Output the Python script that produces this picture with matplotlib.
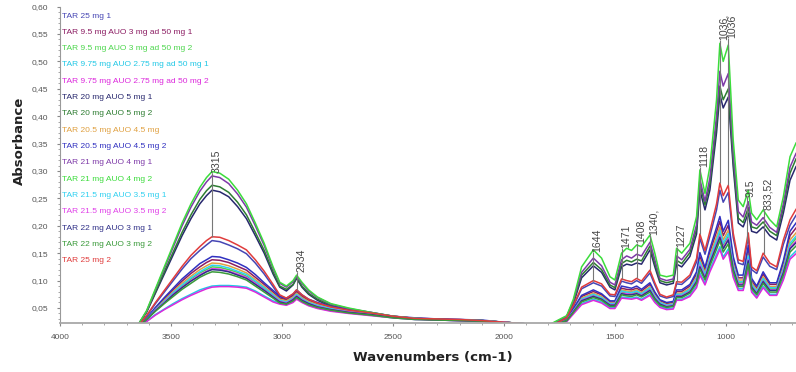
import matplotlib
matplotlib.use("Agg")
import matplotlib.pyplot as plt
from matplotlib import font_manager
from matplotlib.ticker import MultipleLocator, FuncFormatter
import numpy as np

# ---------------- data ----------------
wavenumbers = [3650, 3610, 3570, 3530, 3490, 3450, 3410, 3370, 3340, 3315,
               3280, 3240, 3200, 3160, 3120, 3080, 3040, 3010, 2980, 2950,
               2934, 2910, 2880, 2840, 2780, 2700, 2600, 2500, 2400, 2300,
               2200, 2100, 2000, 1900, 1820,
               1779, 1717, 1687, 1650, 1597, 1560, 1522, 1500, 1470, 1447,
               1425, 1402, 1380, 1342, 1320, 1297, 1267, 1237, 1222, 1199,
               1162, 1132, 1117, 1094, 1072, 1042, 1027, 1012, 989, 967,
               944, 922, 899, 884, 861, 832, 802, 771, 741, 711, 684]

tar25_1 = [0.016, 0.035, 0.058, 0.079, 0.100, 0.121, 0.140, 0.155, 0.165, 0.173,
           0.171, 0.165, 0.158, 0.149, 0.132, 0.112, 0.089, 0.071, 0.066, 0.073,
           0.080, 0.071, 0.064, 0.057, 0.050, 0.045, 0.040, 0.034, 0.031, 0.030,
           0.029, 0.027, 0.024, 0.021, 0.015,
           0.019, 0.031, 0.053, 0.085, 0.096, 0.090, 0.072, 0.071, 0.099, 0.096,
           0.094, 0.100, 0.095, 0.114, 0.092, 0.072, 0.068, 0.071, 0.094, 0.093,
           0.106, 0.134, 0.177, 0.148, 0.181, 0.229, 0.265, 0.243, 0.261, 0.179,
           0.132, 0.129, 0.179, 0.120, 0.113, 0.143, 0.126, 0.120, 0.166, 0.201, 0.219]

tar95_ad50_1 = [0.015, 0.031, 0.050, 0.066, 0.083, 0.099, 0.113, 0.125, 0.133, 0.138,
                0.137, 0.133, 0.126, 0.119, 0.106, 0.093, 0.079, 0.068, 0.065, 0.073,
                0.080, 0.072, 0.064, 0.058, 0.052, 0.046, 0.041, 0.035, 0.031, 0.029,
                0.028, 0.027, 0.024, 0.021, 0.015,
                0.018, 0.028, 0.047, 0.071, 0.080, 0.074, 0.061, 0.061, 0.086, 0.084,
                0.083, 0.086, 0.081, 0.093, 0.076, 0.063, 0.058, 0.060, 0.080, 0.080,
                0.090, 0.112, 0.144, 0.119, 0.152, 0.189, 0.208, 0.182, 0.201, 0.138,
                0.105, 0.105, 0.157, 0.100, 0.086, 0.112, 0.093, 0.093, 0.131, 0.182, 0.196]

tar95_ad50_2 = [0.015, 0.029, 0.046, 0.061, 0.076, 0.090, 0.103, 0.114, 0.120, 0.125,
                0.124, 0.120, 0.115, 0.108, 0.097, 0.085, 0.073, 0.063, 0.060, 0.067,
                0.073, 0.066, 0.059, 0.054, 0.048, 0.043, 0.039, 0.033, 0.030, 0.029,
                0.028, 0.026, 0.024, 0.021, 0.015,
                0.018, 0.028, 0.044, 0.065, 0.073, 0.068, 0.057, 0.057, 0.079, 0.077,
                0.076, 0.079, 0.074, 0.085, 0.070, 0.058, 0.054, 0.056, 0.073, 0.073,
                0.082, 0.102, 0.131, 0.108, 0.137, 0.170, 0.187, 0.164, 0.181, 0.125,
                0.096, 0.096, 0.142, 0.091, 0.079, 0.102, 0.085, 0.085, 0.118, 0.164, 0.177]

tar975_ad50_1 = [0.015, 0.026, 0.038, 0.048, 0.058, 0.067, 0.075, 0.083, 0.087, 0.090,
                 0.091, 0.091, 0.090, 0.088, 0.081, 0.072, 0.063, 0.059, 0.056, 0.062,
                 0.068, 0.061, 0.055, 0.050, 0.045, 0.041, 0.037, 0.032, 0.029, 0.028,
                 0.027, 0.026, 0.023, 0.020, 0.015,
                 0.018, 0.026, 0.041, 0.058, 0.066, 0.061, 0.051, 0.051, 0.070, 0.069,
                 0.068, 0.070, 0.066, 0.075, 0.062, 0.053, 0.049, 0.050, 0.066, 0.066,
                 0.073, 0.090, 0.114, 0.095, 0.120, 0.148, 0.162, 0.143, 0.158, 0.110,
                 0.085, 0.085, 0.124, 0.081, 0.070, 0.090, 0.075, 0.075, 0.104, 0.143, 0.154]

tar975_ad50_2 = [0.015, 0.025, 0.037, 0.047, 0.056, 0.065, 0.073, 0.080, 0.085, 0.088,
                 0.089, 0.089, 0.088, 0.086, 0.079, 0.070, 0.061, 0.057, 0.055, 0.060,
                 0.066, 0.060, 0.054, 0.049, 0.044, 0.040, 0.036, 0.032, 0.029, 0.028,
                 0.027, 0.025, 0.023, 0.020, 0.015,
                 0.018, 0.025, 0.039, 0.056, 0.064, 0.059, 0.049, 0.049, 0.068, 0.067,
                 0.066, 0.068, 0.064, 0.073, 0.060, 0.051, 0.047, 0.048, 0.064, 0.064,
                 0.071, 0.087, 0.110, 0.092, 0.116, 0.143, 0.157, 0.139, 0.153, 0.106,
                 0.082, 0.082, 0.120, 0.079, 0.068, 0.087, 0.073, 0.073, 0.101, 0.139, 0.149]

tar20_auo5_1 = [0.018, 0.042, 0.077, 0.112, 0.147, 0.182, 0.213, 0.240, 0.255, 0.265,
                0.262, 0.253, 0.235, 0.213, 0.182, 0.150, 0.112, 0.088, 0.081, 0.092,
                0.104, 0.088, 0.075, 0.064, 0.053, 0.046, 0.040, 0.033, 0.030, 0.029,
                0.028, 0.026, 0.024, 0.021, 0.015,
                0.021, 0.034, 0.058, 0.105, 0.127, 0.115, 0.088, 0.083, 0.125, 0.130,
                0.128, 0.132, 0.130, 0.156, 0.125, 0.096, 0.092, 0.095, 0.130, 0.125,
                0.144, 0.185, 0.265, 0.229, 0.265, 0.370, 0.440, 0.415, 0.435, 0.308,
                0.205, 0.198, 0.223, 0.190, 0.187, 0.198, 0.182, 0.174, 0.223, 0.283, 0.308]

tar20_auo5_2 = [0.018, 0.043, 0.079, 0.116, 0.152, 0.188, 0.220, 0.248, 0.264, 0.274,
                0.271, 0.261, 0.243, 0.220, 0.188, 0.155, 0.116, 0.090, 0.084, 0.093,
                0.106, 0.090, 0.077, 0.066, 0.055, 0.047, 0.040, 0.034, 0.030, 0.029,
                0.028, 0.027, 0.024, 0.021, 0.015,
                0.021, 0.035, 0.061, 0.110, 0.133, 0.120, 0.092, 0.087, 0.131, 0.137,
                0.134, 0.139, 0.136, 0.163, 0.131, 0.100, 0.096, 0.099, 0.137, 0.131,
                0.151, 0.194, 0.276, 0.238, 0.276, 0.385, 0.455, 0.430, 0.450, 0.320,
                0.214, 0.206, 0.233, 0.198, 0.195, 0.207, 0.190, 0.182, 0.233, 0.296, 0.322]

tar205_auo45_1 = [0.015, 0.030, 0.048, 0.064, 0.080, 0.095, 0.108, 0.120, 0.127, 0.132,
                  0.131, 0.127, 0.121, 0.114, 0.102, 0.089, 0.076, 0.066, 0.063, 0.070,
                  0.077, 0.069, 0.062, 0.056, 0.050, 0.045, 0.040, 0.034, 0.031, 0.029,
                  0.028, 0.027, 0.024, 0.021, 0.015,
                  0.018, 0.028, 0.046, 0.068, 0.077, 0.071, 0.059, 0.059, 0.083, 0.081,
                  0.080, 0.083, 0.078, 0.089, 0.073, 0.061, 0.056, 0.058, 0.077, 0.077,
                  0.086, 0.107, 0.138, 0.114, 0.145, 0.180, 0.198, 0.174, 0.192, 0.132,
                  0.101, 0.101, 0.150, 0.096, 0.083, 0.107, 0.089, 0.089, 0.125, 0.174, 0.187]

tar205_auo45_2 = [0.015, 0.031, 0.051, 0.069, 0.086, 0.103, 0.117, 0.131, 0.138, 0.144,
                  0.143, 0.138, 0.132, 0.124, 0.111, 0.096, 0.082, 0.071, 0.068, 0.075,
                  0.083, 0.074, 0.066, 0.060, 0.053, 0.048, 0.042, 0.035, 0.032, 0.030,
                  0.029, 0.028, 0.024, 0.021, 0.015,
                  0.018, 0.029, 0.049, 0.073, 0.083, 0.076, 0.063, 0.063, 0.090, 0.088,
                  0.086, 0.090, 0.084, 0.096, 0.079, 0.065, 0.060, 0.062, 0.083, 0.083,
                  0.093, 0.116, 0.151, 0.124, 0.158, 0.197, 0.217, 0.190, 0.210, 0.144,
                  0.110, 0.110, 0.164, 0.104, 0.090, 0.116, 0.096, 0.096, 0.136, 0.190, 0.205]

tar21_auo4_1 = [0.018, 0.044, 0.083, 0.122, 0.161, 0.200, 0.234, 0.263, 0.280, 0.291,
                0.288, 0.277, 0.258, 0.234, 0.200, 0.164, 0.122, 0.095, 0.088, 0.098,
                0.107, 0.095, 0.081, 0.069, 0.057, 0.049, 0.042, 0.035, 0.031, 0.029,
                0.028, 0.027, 0.024, 0.021, 0.015,
                0.022, 0.035, 0.063, 0.115, 0.141, 0.127, 0.097, 0.092, 0.138, 0.145,
                0.141, 0.148, 0.145, 0.170, 0.138, 0.104, 0.100, 0.103, 0.145, 0.138,
                0.157, 0.202, 0.285, 0.245, 0.287, 0.401, 0.482, 0.455, 0.478, 0.333,
                0.226, 0.216, 0.244, 0.207, 0.201, 0.215, 0.197, 0.188, 0.240, 0.307, 0.332]

tar21_auo4_2 = [0.018, 0.045, 0.085, 0.125, 0.165, 0.205, 0.240, 0.270, 0.288, 0.299,
                0.296, 0.285, 0.265, 0.240, 0.205, 0.168, 0.125, 0.097, 0.090, 0.100,
                0.110, 0.097, 0.083, 0.070, 0.058, 0.050, 0.042, 0.035, 0.031, 0.029,
                0.028, 0.027, 0.024, 0.021, 0.015,
                0.023, 0.036, 0.066, 0.125, 0.156, 0.141, 0.107, 0.101, 0.150, 0.159,
                0.155, 0.165, 0.162, 0.183, 0.150, 0.110, 0.107, 0.110, 0.159, 0.150,
                0.168, 0.217, 0.302, 0.259, 0.308, 0.430, 0.533, 0.500, 0.530, 0.357,
                0.247, 0.235, 0.265, 0.223, 0.211, 0.229, 0.211, 0.198, 0.253, 0.326, 0.351]

tar215_auo35_1 = [0.015, 0.030, 0.047, 0.062, 0.078, 0.092, 0.105, 0.116, 0.123, 0.128,
                  0.127, 0.123, 0.117, 0.111, 0.099, 0.087, 0.074, 0.064, 0.061, 0.068,
                  0.075, 0.067, 0.060, 0.055, 0.049, 0.044, 0.039, 0.034, 0.031, 0.029,
                  0.028, 0.027, 0.024, 0.021, 0.015,
                  0.018, 0.028, 0.045, 0.066, 0.075, 0.069, 0.058, 0.058, 0.081, 0.079,
                  0.078, 0.081, 0.076, 0.087, 0.071, 0.060, 0.055, 0.057, 0.075, 0.075,
                  0.084, 0.104, 0.134, 0.111, 0.141, 0.174, 0.192, 0.168, 0.186, 0.128,
                  0.098, 0.098, 0.145, 0.093, 0.081, 0.104, 0.087, 0.087, 0.121, 0.168, 0.181]

tar215_auo35_2 = [0.015, 0.029, 0.046, 0.060, 0.075, 0.088, 0.100, 0.111, 0.117, 0.122,
                  0.121, 0.117, 0.112, 0.106, 0.095, 0.083, 0.071, 0.062, 0.059, 0.066,
                  0.072, 0.065, 0.058, 0.053, 0.047, 0.043, 0.038, 0.033, 0.030, 0.028,
                  0.027, 0.026, 0.024, 0.021, 0.015,
                  0.018, 0.027, 0.044, 0.064, 0.072, 0.066, 0.056, 0.056, 0.077, 0.076,
                  0.075, 0.077, 0.073, 0.083, 0.068, 0.057, 0.053, 0.055, 0.072, 0.072,
                  0.080, 0.099, 0.128, 0.106, 0.134, 0.166, 0.182, 0.160, 0.177, 0.122,
                  0.094, 0.094, 0.138, 0.089, 0.077, 0.099, 0.083, 0.083, 0.116, 0.160, 0.172]

tar22_auo3_1 = [0.015, 0.029, 0.045, 0.059, 0.074, 0.087, 0.099, 0.109, 0.116, 0.120,
                0.119, 0.116, 0.110, 0.104, 0.093, 0.082, 0.070, 0.061, 0.058, 0.065,
                0.071, 0.064, 0.058, 0.052, 0.047, 0.042, 0.038, 0.033, 0.030, 0.028,
                0.027, 0.026, 0.023, 0.021, 0.015,
                0.018, 0.027, 0.043, 0.063, 0.071, 0.066, 0.055, 0.055, 0.076, 0.074,
                0.074, 0.076, 0.072, 0.082, 0.067, 0.057, 0.052, 0.054, 0.071, 0.071,
                0.079, 0.098, 0.125, 0.104, 0.132, 0.163, 0.179, 0.158, 0.174, 0.120,
                0.092, 0.092, 0.136, 0.088, 0.076, 0.098, 0.082, 0.082, 0.114, 0.158, 0.169]

tar22_auo3_2 = [0.015, 0.029, 0.044, 0.058, 0.071, 0.084, 0.095, 0.106, 0.112, 0.116,
                0.115, 0.112, 0.107, 0.101, 0.090, 0.079, 0.068, 0.059, 0.057, 0.063,
                0.069, 0.062, 0.056, 0.051, 0.046, 0.041, 0.037, 0.032, 0.029, 0.028,
                0.027, 0.026, 0.023, 0.021, 0.015,
                0.018, 0.027, 0.042, 0.061, 0.069, 0.064, 0.053, 0.053, 0.074, 0.072,
                0.071, 0.074, 0.070, 0.079, 0.065, 0.055, 0.051, 0.053, 0.069, 0.069,
                0.077, 0.095, 0.121, 0.101, 0.127, 0.157, 0.173, 0.152, 0.167, 0.116,
                0.089, 0.089, 0.131, 0.085, 0.074, 0.095, 0.079, 0.079, 0.110, 0.152, 0.163]

tar25_2 = [0.016, 0.036, 0.060, 0.082, 0.104, 0.126, 0.146, 0.162, 0.173, 0.180,
           0.179, 0.173, 0.165, 0.156, 0.138, 0.117, 0.093, 0.074, 0.068, 0.076,
           0.083, 0.074, 0.066, 0.059, 0.052, 0.046, 0.041, 0.035, 0.031, 0.030,
           0.029, 0.027, 0.024, 0.021, 0.015,
           0.019, 0.032, 0.055, 0.088, 0.100, 0.094, 0.075, 0.074, 0.103, 0.100,
           0.098, 0.104, 0.099, 0.119, 0.096, 0.075, 0.070, 0.074, 0.098, 0.097,
           0.110, 0.140, 0.185, 0.155, 0.190, 0.240, 0.278, 0.255, 0.274, 0.187,
           0.138, 0.135, 0.187, 0.125, 0.118, 0.150, 0.132, 0.125, 0.174, 0.211, 0.230]

series_labels = ["TAR 25 mg 1",
                 "TAR 9.5 mg AUO 3 mg ad 50 mg 1",
                 "TAR 9.5 mg AUO 3 mg ad 50 mg 2",
                 "TAR 9.75 mg AUO 2.75 mg ad 50 mg 1",
                 "TAR 9.75 mg AUO 2.75 mg ad 50 mg 2",
                 "TAR 20 mg AUO 5 mg 1",
                 "TAR 20 mg AUO 5 mg 2",
                 "TAR 20.5 mg AUO 4.5 mg",
                 "TAR 20.5 mg AUO 4.5 mg 2",
                 "TAR 21 mg AUO 4 mg 1",
                 "TAR 21 mg AUO 4 mg 2",
                 "TAR 21.5 mg AUO 3.5 mg 1",
                 "TAR 21.5 mg AUO 3.5 mg 2",
                 "TAR 22 mg AUO 3 mg 1",
                 "TAR 22 mg AUO 3 mg 2",
                 "TAR 25 mg 2"]
series_values = [tar25_1, tar95_ad50_1, tar95_ad50_2, tar975_ad50_1, tar975_ad50_2,
                 tar20_auo5_1, tar20_auo5_2, tar205_auo45_1, tar205_auo45_2,
                 tar21_auo4_1, tar21_auo4_2, tar215_auo35_1, tar215_auo35_2,
                 tar22_auo3_1, tar22_auo3_2, tar25_2]
series_colors = ["#4646b4", "#8b1c62", "#4cd64c", "#22c8e6", "#dc28dc",
                 "#28286e", "#2e7d32", "#e0a040", "#3030c0", "#7e3aa8",
                 "#3cdc3c", "#30d0f0", "#e040e8", "#303088", "#3a9a3a", "#e03c3c"]

peak_labels = ["3315", "2934", "1644", "1471", "1408", "1340,", "1227", "1118",
               "1036,", "1036", "915", "833,52"]
peak_positions = [3315, 2932, 1599, 1470, 1402, 1342, 1222, 1117, 1027, 989, 906, 828]
peak_label_levels = [0.296, 0.116, 0.152, 0.160, 0.169, 0.183, 0.161, 0.307,
                     0.539, 0.543, 0.253, 0.229]

# ---------------- fonts ----------------
installed = {f.name for f in font_manager.fontManager.ttflist}
if "Liberation Sans Narrow" in installed:
    narrow, leg_size, tick_size = "Liberation Sans Narrow", 7.0, 7.0
else:
    narrow, leg_size, tick_size = "Liberation Sans", 6.0, 6.0

# ---------------- figure ----------------
W, H = 796, 372
fig = plt.figure(figsize=(W / 100, H / 100), dpi=100)
ax = fig.add_axes([60 / W, 1 - 322.5 / H, 1 - 60 / W, (322.5 - 6.6) / H])

for vals, col in zip(series_values, series_colors):
    ax.plot(wavenumbers, vals, color=col, lw=1.1, solid_joinstyle="round")

ax.set_xlim(4000, 684)
ax.set_ylim(0.0235, 0.60)

# peak annotations (marked on the TAR 25 mg 2 spectrum)
wn_arr = np.array(wavenumbers)[::-1]
ref_arr = np.array(tar25_2)[::-1]
for lab, pos, lvl in zip(peak_labels, peak_positions, peak_label_levels):
    base = float(np.interp(pos, wn_arr, ref_arr))
    ax.vlines(pos, base, lvl, color="#777777", lw=0.8, zorder=5)
    ax.annotate(lab, xy=(pos, lvl), xytext=(3.0, 0), textcoords="offset points",
                rotation=90, ha="center", va="bottom", fontsize=7.6,
                color="#444444", family="Liberation Sans", zorder=6)

# axes styling
for s in ("top", "right"):
    ax.spines[s].set_visible(False)
ax.spines["left"].set_color("#999999")
ax.spines["bottom"].set_color("#a8a8a8")
ax.spines["bottom"].set_linewidth(1.3)

ax.xaxis.set_major_locator(MultipleLocator(500))
ax.xaxis.set_minor_locator(MultipleLocator(100))
ax.yaxis.set_major_locator(MultipleLocator(0.05))
ax.yaxis.set_minor_locator(MultipleLocator(0.01))
ax.yaxis.set_major_formatter(FuncFormatter(lambda v, p: f"{v:.2f}".replace(".", ",")))
ax.xaxis.set_major_formatter(FuncFormatter(lambda v, p: f"{v:.0f}"))
ax.tick_params(axis="both", which="major", direction="out", length=2.5, width=0.8,
               color="#888888", labelcolor="#555555", labelsize=tick_size)
ax.tick_params(axis="both", which="minor", direction="out", length=1.5, width=0.6,
               color="#999999")
ax.tick_params(axis="y", which="major", pad=6)
ax.tick_params(axis="x", which="major", pad=6)
for t in ax.get_xticklabels() + ax.get_yticklabels():
    t.set_family(narrow)

fig.text(19 / W, 1 - 141 / H, "Absorbance", rotation=90, ha="center", va="center",
         fontsize=9.5, fontweight="bold", family="DejaVu Sans", color="#222222")
fig.text(433 / W, 1 - 358 / H, "Wavenumbers (cm-1)", ha="center", va="center",
         fontsize=9.5, fontweight="bold", family="DejaVu Sans", color="#222222")

for i, (lab, col) in enumerate(zip(series_labels, series_colors)):
    fig.text(62 / W, 1 - (16 + i * 16.33) / H, lab, color=col, fontsize=leg_size,
             family=narrow, ha="left", va="center")

fig.savefig("out.png", dpi=100)
